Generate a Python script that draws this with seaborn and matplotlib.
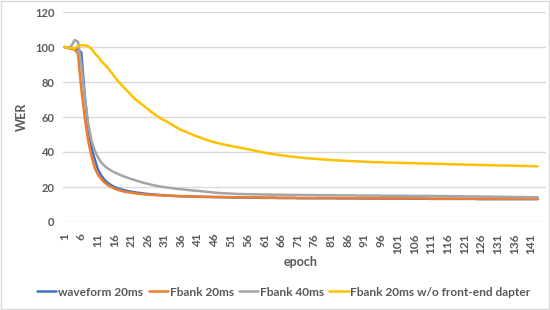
import numpy as np
import pandas as pd
import matplotlib.pyplot as plt
import seaborn as sns
from matplotlib.patches import Rectangle

# WER per epoch
waveform_20ms = [
    100, 99.5, 99, 99, 98.5, 97, 73, 55, 43, 36,
    30, 26.5, 24, 22.3, 21, 20, 19.2, 18.6, 18.1, 17.7,
    17.3, 17, 16.7, 16.5, 16.2, 16, 15.8, 15.7, 15.5, 15.4,
    15.2, 15.1, 15, 14.9, 14.8, 14.7, 14.7, 14.6, 14.5, 14.5,
    14.4, 14.4, 14.3, 14.3, 14.3, 14.2, 14.2, 14.2, 14.1, 14.1,
    14.1, 14.0, 14.0, 14.0, 14.0, 13.9, 13.9, 13.9, 13.9, 13.8,
    13.8, 13.8, 13.8, 13.8, 13.7, 13.7, 13.7, 13.7, 13.7, 13.7,
    13.6, 13.6, 13.6, 13.6, 13.6, 13.6, 13.6, 13.6, 13.6, 13.6,
    13.6, 13.6, 13.5, 13.5, 13.5, 13.5, 13.5, 13.5, 13.5, 13.5,
    13.4, 13.4, 13.4, 13.4, 13.4, 13.4, 13.4, 13.4, 13.4, 13.4,
    13.4, 13.4, 13.4, 13.3, 13.3, 13.3, 13.3, 13.3, 13.3, 13.3,
    13.2, 13.2, 13.2, 13.2, 13.2, 13.2, 13.2, 13.2, 13.2, 13.2,
    13.2, 13.2, 13.2, 13.2, 13.1, 13.1, 13.1, 13.1, 13.1, 13.1,
    13.1, 13.1, 13.1, 13.1, 13.1, 13.1, 13.1, 13.1, 13.1, 13.1,
    13.1, 13.1, 13.1,
]
fbank_20ms = [
    100, 99.5, 99, 98.5, 96, 76, 60, 47, 38, 31,
    27, 24.5, 22.5, 21, 20, 19, 18.3, 17.8, 17.3, 17,
    16.7, 16.4, 16.2, 16, 15.8, 15.6, 15.5, 15.4, 15.3, 15.2,
    15.1, 15, 14.9, 14.9, 14.8, 14.8, 14.7, 14.7, 14.6, 14.6,
    14.5, 14.5, 14.4, 14.4, 14.4, 14.3, 14.3, 14.3, 14.2, 14.2,
    14.2, 14.1, 14.1, 14.1, 14.1, 14.0, 14.0, 14.0, 14.0, 13.9,
    13.9, 13.9, 13.9, 13.9, 13.8, 13.8, 13.8, 13.8, 13.8, 13.8,
    13.7, 13.7, 13.7, 13.7, 13.7, 13.7, 13.7, 13.7, 13.7, 13.7,
    13.7, 13.7, 13.6, 13.6, 13.6, 13.6, 13.6, 13.6, 13.6, 13.6,
    13.5, 13.5, 13.5, 13.5, 13.5, 13.5, 13.5, 13.5, 13.5, 13.5,
    13.5, 13.5, 13.5, 13.4, 13.4, 13.4, 13.4, 13.4, 13.4, 13.4,
    13.3, 13.3, 13.3, 13.3, 13.3, 13.3, 13.3, 13.3, 13.3, 13.3,
    13.3, 13.3, 13.3, 13.3, 13.2, 13.2, 13.2, 13.2, 13.2, 13.2,
    13.2, 13.2, 13.1, 13.2, 13.2, 13.2, 13.2, 13.1, 13.2, 13.2,
    13.2, 13.1, 13.2,
]
fbank_40ms = [
    100, 99.5, 100.5, 104, 103, 90, 72, 57, 47, 41,
    37, 34, 32, 30.5, 29.3, 28.3, 27.5, 26.6, 25.9, 25.2,
    24.5, 24, 23.3, 22.8, 22.3, 21.8, 21.3, 20.9, 20.5, 20.2,
    19.9, 19.6, 19.4, 19.1, 18.9, 18.7, 18.5, 18.3, 18.1, 17.9,
    17.8, 17.6, 17.4, 17.2, 17.0, 16.8, 16.6, 16.5, 16.4, 16.3,
    16.2, 16.1, 16.0, 16.0, 15.9, 15.9, 15.8, 15.8, 15.8, 15.7,
    15.7, 15.7, 15.6, 15.6, 15.6, 15.6, 15.5, 15.5, 15.5, 15.5,
    15.5, 15.4, 15.4, 15.4, 15.4, 15.4, 15.3, 15.3, 15.3, 15.3,
    15.3, 15.3, 15.2, 15.2, 15.2, 15.2, 15.2, 15.2, 15.1, 15.1,
    15.1, 15.1, 15.1, 15.1, 15.1, 15.0, 15.0, 15.0, 15.0, 15.0,
    15.0, 15.0, 15.0, 14.9, 14.9, 14.9, 14.9, 14.9, 14.9, 14.9,
    14.9, 14.9, 14.8, 14.8, 14.8, 14.8, 14.8, 14.7, 14.7, 14.7,
    14.7, 14.6, 14.6, 14.6, 14.6, 14.5, 14.5, 14.5, 14.5, 14.4,
    14.4, 14.4, 14.4, 14.3, 14.3, 14.3, 14.3, 14.3, 14.2, 14.2,
    14.2, 14.2, 14.2,
]
fbank_20ms_no_adapter = [
    100, 99.5, 99.5, 99, 100.5, 101, 101, 100.5, 99, 96.5,
    94.5, 92, 90, 88, 85.5, 83, 80.5, 78.5, 76.5, 74.5,
    72.5, 70.5, 69, 67.5, 66, 64.5, 63, 61.5, 60.3, 59,
    58, 57, 55.8, 54.7, 53.6, 52.6, 51.8, 51, 50.2, 49.4,
    48.7, 48, 47.3, 46.7, 46.1, 45.6, 45.1, 44.6, 44.2, 43.8,
    43.4, 43, 42.7, 42.3, 42, 41.6, 41.2, 40.8, 40.4, 40,
    39.6, 39.3, 39, 38.7, 38.4, 38.1, 37.9, 37.6, 37.4, 37.2,
    37, 36.8, 36.6, 36.4, 36.3, 36.1, 36, 35.8, 35.7, 35.6,
    35.4, 35.3, 35.2, 35.1, 35, 34.9, 34.8, 34.7, 34.6, 34.5,
    34.4, 34.4, 34.3, 34.2, 34.2, 34.1, 34, 34, 33.9, 33.9,
    33.8, 33.8, 33.7, 33.7, 33.6, 33.6, 33.5, 33.5, 33.4, 33.4,
    33.3, 33.3, 33.2, 33.2, 33.1, 33.1, 33, 33, 32.9, 32.9,
    32.8, 32.8, 32.7, 32.7, 32.6, 32.6, 32.5, 32.5, 32.4, 32.4,
    32.3, 32.3, 32.3, 32.2, 32.2, 32.1, 32.1, 32.0, 32.0, 32.0,
    31.9, 31.9, 31.8,
]

series_names = ["waveform 20ms", "Fbank 20ms", "Fbank 40ms",
                "Fbank 20ms w/o front-end dapter"]
series_colors = ["#4472C4", "#ED7D31", "#A5A5A5", "#FFC000"]
epochs = list(range(1, len(waveform_20ms) + 1))
tick_epochs = list(range(1, 142, 5))
y_ticks = [0, 20, 40, 60, 80, 100, 120]

rows = []
for name, vals in zip(series_names, [waveform_20ms, fbank_20ms, fbank_40ms, fbank_20ms_no_adapter]):
    for e, v in zip(epochs, vals):
        rows.append({"epoch": e, "WER": v, "series": name})
df = pd.DataFrame(rows)

sns.set_theme(style="white")
plt.rcParams["font.family"] = ["Lato", "DejaVu Sans"]
text_color = "#595959"
grid_color = "#D9D9D9"

fig = plt.figure(figsize=(5.5, 3.1), dpi=100)
ax = fig.add_axes([63 / 550, 88 / 310, 483 / 550, 210 / 310])

sns.lineplot(data=df, x="epoch", y="WER", hue="series", hue_order=series_names,
             palette=series_colors, linewidth=1.8, ax=ax, legend=True)

ax.set_xlim(0.5, 145.5)
ax.set_ylim(0, 120)
ax.set_yticks(y_ticks)
ax.set_xticks(tick_epochs)
ax.set_xticklabels([str(t) for t in tick_epochs], rotation=90)
ax.tick_params(axis="y", colors=text_color, labelsize=8, length=0, pad=6)
ax.tick_params(axis="x", colors=text_color, labelsize=8.5, length=0, pad=8)
for lbl in ax.get_xticklabels() + ax.get_yticklabels():
    lbl.set_fontweight("bold")
ax.yaxis.grid(True, color=grid_color, linewidth=1)
ax.xaxis.grid(False)
for side in ["top", "right", "left", "bottom"]:
    ax.spines[side].set_visible(False)
ax.set_xlabel("")
ax.set_ylabel("")

fig.text(301 / 550, 1 - 262 / 310, "epoch", ha="center", va="center",
         fontsize=9, fontweight="bold", color=text_color)
fig.text(22 / 550, 1 - 117 / 310, "WER", ha="center", va="center", rotation=90,
         fontsize=9, fontweight="bold", color=text_color)

handles, labels = ax.get_legend_handles_labels()
ax.legend_.remove()
leg = fig.legend(handles, labels, loc="center", bbox_to_anchor=(284 / 550, 1 - 292 / 310),
                 ncol=4, frameon=False, fontsize=8.6, handlelength=1.6, handletextpad=0.15,
                 columnspacing=0.45, borderaxespad=0)
for t in leg.get_texts():
    t.set_color(text_color)
    t.set_fontweight("bold")

fig.patches.append(Rectangle((0.002, 0.003), 0.996, 0.994, transform=fig.transFigure,
                             fill=False, edgecolor=grid_color, linewidth=1))

fig.savefig("out.png", dpi=100)
